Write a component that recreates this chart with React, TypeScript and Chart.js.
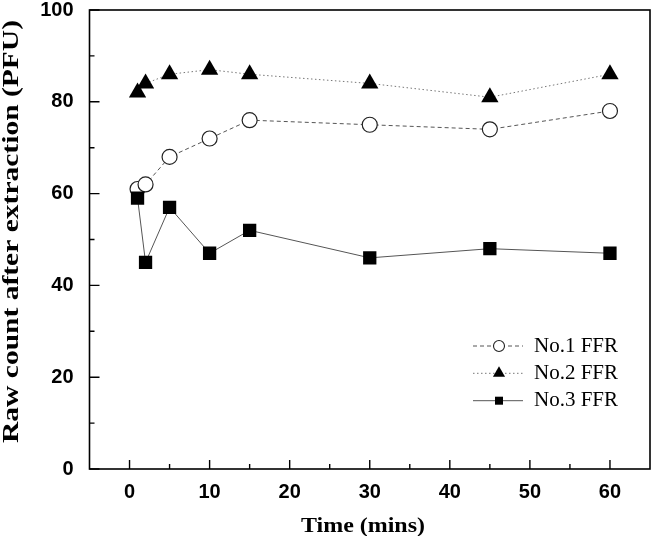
import React, { useEffect, useRef } from 'react';
import { Chart, registerables } from 'chart.js';

Chart.register(...registerables);

const TIMES = [1, 2, 5, 10, 15, 30, 45, 60];
const FFR1 = [61, 62, 68, 72, 76, 75, 74, 78];
const FFR2 = [82, 84, 86, 87, 86, 84, 81, 86];
const FFR3 = [59, 45, 57, 47, 52, 46, 48, 47];
const SERIES_LABELS = ['No.1 FFR', 'No.2 FFR', 'No.3 FFR'];
const X_TICKS = [0, 10, 20, 30, 40, 50, 60];
const X_MINOR = [5, 15, 25, 35, 45, 55];
const Y_TICKS = [0, 20, 40, 60, 80, 100];
const Y_MINOR = [10, 30, 50, 70, 90];
const X_TITLE = 'Time (mins)';
const Y_TITLE = 'Raw count after extraction (PFU)';

const SERIF = "'Liberation Serif', 'Times New Roman', serif";
const SANS = "'Liberation Sans', Arial, sans-serif";

export default function App() {
  const ref = useRef<HTMLCanvasElement>(null);

  useEffect(() => {
    const canvas = ref.current;
    if (!canvas) return;

    const toPts = (ys: number[]) => TIMES.map((t, i) => ({ x: t, y: ys[i] }));

    const framePlugin = {
      id: 'frameTicks',
      beforeDatasetsDraw(chart: any) {
        const { ctx, chartArea: a, scales } = chart;
        ctx.save();
        ctx.strokeStyle = '#000';
        ctx.lineWidth = 1.6;
        ctx.strokeRect(a.left, a.top, a.right - a.left, a.bottom - a.top);
        ctx.lineWidth = 1.4;
        ctx.beginPath();
        for (const v of X_TICKS) {
          const x = scales.x.getPixelForValue(v);
          ctx.moveTo(x, a.bottom);
          ctx.lineTo(x, a.bottom - 9);
        }
        for (const v of X_MINOR) {
          const x = scales.x.getPixelForValue(v);
          ctx.moveTo(x, a.bottom);
          ctx.lineTo(x, a.bottom - 5);
        }
        for (const v of Y_TICKS) {
          const y = scales.y.getPixelForValue(v);
          ctx.moveTo(a.left, y);
          ctx.lineTo(a.left + 10, y);
        }
        for (const v of Y_MINOR) {
          const y = scales.y.getPixelForValue(v);
          ctx.moveTo(a.left, y);
          ctx.lineTo(a.left + 5, y);
        }
        ctx.stroke();
        ctx.restore();
      },
    };

    const drawMarker = (ctx: CanvasRenderingContext2D, style: string, x: number, y: number) => {
      ctx.save();
      ctx.lineWidth = 1.1;
      ctx.strokeStyle = '#222';
      ctx.fillStyle = '#000';
      ctx.beginPath();
      if (style === 'circle') {
        ctx.arc(x, y, 5.5, 0, Math.PI * 2);
        ctx.fillStyle = '#fff';
        ctx.fill();
        ctx.stroke();
      } else if (style === 'triangle') {
        const r = 7;
        ctx.moveTo(x, y - r);
        ctx.lineTo(x + r * Math.sin((2 * Math.PI) / 3), y + r / 2);
        ctx.lineTo(x - r * Math.sin((2 * Math.PI) / 3), y + r / 2);
        ctx.closePath();
        ctx.fill();
      } else {
        ctx.rect(x - 4, y - 4, 8, 8);
        ctx.fill();
      }
      ctx.restore();
    };

    const legendTitlePlugin = {
      id: 'legendTitles',
      afterDraw(chart: any) {
        const { ctx } = chart;
        ctx.save();
        // Legend
        const rowsY = [346, 373.3, 400.7];
        chart.data.datasets.forEach((ds: any, i: number) => {
          const y = rowsY[i];
          ctx.save();
          ctx.strokeStyle = ds.borderColor;
          ctx.lineWidth = 1;
          ctx.setLineDash(ds.borderDash || []);
          ctx.beginPath();
          ctx.moveTo(473, y);
          ctx.lineTo(523, y);
          ctx.stroke();
          ctx.restore();
          drawMarker(ctx, ds.pointStyle, 499, y);
          ctx.fillStyle = '#000';
          ctx.font = `21px ${SERIF}`;
          ctx.textAlign = 'left';
          ctx.textBaseline = 'middle';
          ctx.fillText(ds.label, 534, y);
        });

        // X title
        ctx.font = `bold 22px ${SERIF}`;
        ctx.textAlign = 'center';
        ctx.textBaseline = 'alphabetic';
        ctx.fillStyle = '#000';
        const wx = ctx.measureText(X_TITLE).width;
        ctx.save();
        ctx.translate(363, 532);
        ctx.scale(124 / wx, 1);
        ctx.fillText(X_TITLE, 0, 0);
        ctx.restore();

        // Y title
        ctx.font = `bold 23px ${SERIF}`;
        const wy = ctx.measureText(Y_TITLE).width;
        ctx.save();
        ctx.translate(18, 231.5);
        ctx.rotate(-Math.PI / 2);
        ctx.scale(423 / wy, 1);
        ctx.fillText(Y_TITLE, 0, 0);
        ctx.restore();

        ctx.restore();
      },
    };

    const tickFont = { family: SANS, size: 20, weight: 'bold' as const };

    const chart = new Chart(canvas, {
      type: 'line',
      data: {
        datasets: [
          {
            label: SERIES_LABELS[0],
            data: toPts(FFR1),
            borderColor: '#555',
            borderWidth: 1,
            borderDash: [4, 3],
            pointStyle: 'circle',
            pointRadius: 7.5,
            pointBackgroundColor: '#fff',
            pointBorderColor: '#222',
            pointBorderWidth: 1.2,
            tension: 0,
            fill: false,
            order: 2,
          },
          {
            label: SERIES_LABELS[1],
            data: toPts(FFR2),
            borderColor: '#777',
            borderWidth: 1,
            borderDash: [1.5, 2.5],
            pointStyle: 'triangle',
            pointRadius: 10,
            pointBackgroundColor: '#000',
            pointBorderColor: '#000',
            pointBorderWidth: 0,
            tension: 0,
            fill: false,
            order: 1,
          },
          {
            label: SERIES_LABELS[2],
            data: toPts(FFR3),
            borderColor: '#555',
            borderWidth: 1,
            borderDash: [],
            pointStyle: 'rect',
            pointRadius: 9.4,
            pointBackgroundColor: '#000',
            pointBorderColor: '#000',
            pointBorderWidth: 0,
            tension: 0,
            fill: false,
            order: 0,
          },
        ],
      },
      options: {
        responsive: false,
        animation: false,
        devicePixelRatio: 1,
        layout: { padding: { top: 7, right: 2, left: 0, bottom: 0 } },
        plugins: {
          legend: { display: false },
          tooltip: { enabled: false },
        },
        scales: {
          x: {
            type: 'linear',
            min: -5,
            max: 65,
            afterBuildTicks: (s: any) => {
              s.ticks = X_TICKS.map((v) => ({ value: v }));
            },
            afterFit: (s: any) => {
              s.height = 67;
              s.paddingLeft = 0;
              s.paddingRight = 0;
            },
            ticks: {
              font: tickFont,
              color: '#000',
              padding: 11,
              maxRotation: 0,
              autoSkip: false,
            },
            grid: { display: false, drawTicks: false, tickLength: 0 },
            border: { display: false },
          },
          y: {
            type: 'linear',
            min: 0,
            max: 100,
            afterBuildTicks: (s: any) => {
              s.ticks = Y_TICKS.map((v) => ({ value: v }));
            },
            afterFit: (s: any) => {
              s.width = 89.5;
              s.paddingTop = 0;
              s.paddingBottom = 0;
            },
            ticks: {
              font: tickFont,
              color: '#000',
              padding: 16,
              autoSkip: false,
            },
            grid: { display: false, drawTicks: false, tickLength: 0 },
            border: { display: false },
          },
        },
      },
      plugins: [framePlugin, legendTitlePlugin],
    } as any);

    return () => chart.destroy();
  }, []);

  return (
    <div style={{ position: 'fixed', left: 0, top: 0, width: 660, height: 536, background: '#fff' }}>
      <canvas ref={ref} width={660} height={536} style={{ display: 'block' }} />
    </div>
  );
}
